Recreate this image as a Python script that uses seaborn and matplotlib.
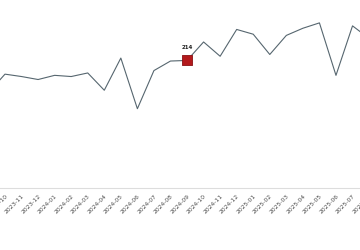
import matplotlib
matplotlib.use("Agg")
import matplotlib.pyplot as plt
import seaborn as sns
import pandas as pd

months = ["2023-09", "2023-10", "2023-11", "2023-12", "2024-01", "2024-02", "2024-03",
          "2024-04", "2024-05", "2024-06", "2024-07", "2024-08", "2024-09", "2024-10",
          "2024-11", "2024-12", "2025-01", "2025-02", "2025-03", "2025-04", "2025-05",
          "2025-06", "2025-07", "2025-08"]
values = [160, 191, 187, 182, 189, 187, 193, 164, 218, 133, 197, 213, 214, 245,
          221, 266, 258, 224, 256, 268, 277, 189, 272, 251]
highlight_month = "2024-09"

df = pd.DataFrame({"idx": range(len(months)), "month": months, "value": values})

sns.set_style("white")
fig = plt.figure(figsize=(3.6, 2.5), dpi=100)
W, H = 360, 250
ax = fig.add_axes([-20 / W, 62 / H, 400 / W, 188 / H])

sns.lineplot(data=df, x="idx", y="value", ax=ax, color="#56666f", linewidth=0.8)

hi = df[df["month"] == highlight_month]
sns.scatterplot(data=hi, x="idx", y="value", ax=ax, marker="s", s=42,
                color="#b3191c", edgecolor="#8a1014", linewidth=0.6, zorder=5)
for _, r in hi.iterrows():
    ax.annotate(f"{r['value']}", (r["idx"], r["value"]), xytext=(0, 9.5),
                textcoords="offset points", ha="center", va="center",
                fontsize=4, fontweight="bold", color="#222222")

ax.set_xlim(-0.51, 23.66)
ax.set_ylim(0, 315.4)
ax.set_xticks(df["idx"])
ax.set_xticklabels(months, rotation=45, ha="right", rotation_mode="anchor",
                   fontsize=4.3, color="#4a4a4a")
ax.tick_params(axis="x", length=0, pad=4)
ax.set_yticks([])
ax.set_xlabel("")
ax.set_ylabel("")
for s in ["top", "left", "right"]:
    ax.spines[s].set_visible(False)
ax.spines["bottom"].set_color("#dddddd")
ax.spines["bottom"].set_linewidth(0.8)
ax.patch.set_alpha(0)

fig.savefig("out.png", dpi=100)
